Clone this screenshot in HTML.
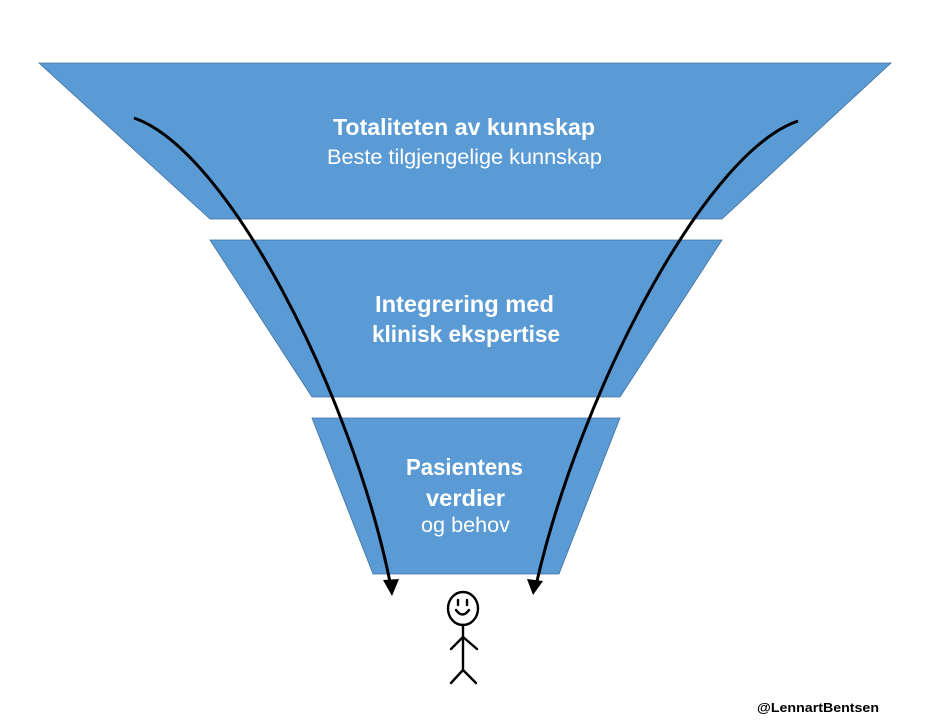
<!DOCTYPE html>
<html>
<head>
<meta charset="utf-8">
<style>
  html,body{margin:0;padding:0;background:#fff;}
  body{width:932px;height:720px;overflow:hidden;}
  svg{display:block;}
  text{font-family:"Liberation Sans",Arial,sans-serif;fill:#fff;}
</style>
</head>
<body>
<svg width="932" height="720" viewBox="0 0 932 720" xmlns="http://www.w3.org/2000/svg">
  <!-- funnel shapes -->
  <polygon points="39,63 891,63 722,219 210,219" fill="#5B9BD5" stroke="#41719C" stroke-width="0.8"/>
  <polygon points="210,240 722,240 620,397 312,397" fill="#5B9BD5" stroke="#41719C" stroke-width="0.8"/>
  <polygon points="312,418 620,418 559,574 373,574" fill="#5B9BD5" stroke="#41719C" stroke-width="0.8"/>

  <!-- texts -->
  <text x="333" y="135" font-size="23" font-weight="bold" textLength="262" lengthAdjust="spacingAndGlyphs">Totaliteten av kunnskap</text>
  <text x="327" y="164" font-size="21" textLength="275" lengthAdjust="spacingAndGlyphs">Beste tilgjengelige kunnskap</text>

  <text x="375" y="312" font-size="23" font-weight="bold" textLength="179" lengthAdjust="spacingAndGlyphs">Integrering med</text>
  <text x="372" y="342" font-size="23" font-weight="bold" textLength="188" lengthAdjust="spacingAndGlyphs">klinisk ekspertise</text>

  <text x="406" y="475" font-size="23" font-weight="bold" textLength="117" lengthAdjust="spacingAndGlyphs">Pasientens</text>
  <text x="426" y="506" font-size="23" font-weight="bold" textLength="79" lengthAdjust="spacingAndGlyphs">verdier</text>
  <text x="421" y="532" font-size="21" textLength="89" lengthAdjust="spacingAndGlyphs">og behov</text>

  <!-- curved arrows -->
  <path d="M134,118 C228,150 352,395 390,582" fill="none" stroke="#000" stroke-width="3"/>
  <polygon points="383,580 399,579 392,596" fill="#000"/>
  <path d="M798,121 C704,153 580,395 537,581" fill="none" stroke="#000" stroke-width="3"/>
  <polygon points="527,579 543,581 533,595" fill="#000"/>

  <!-- stick figure -->
  <g fill="none" stroke="#000" stroke-width="2.4" stroke-linecap="round">
    <ellipse cx="463" cy="608.5" rx="15" ry="16.5"/>
    <line x1="458" y1="600" x2="458" y2="605"/>
    <line x1="467" y1="600" x2="467" y2="605"/>
    <path d="M456,610 Q462.5,619 469,610"/>
    <line x1="463" y1="625" x2="463" y2="670"/>
    <line x1="463" y1="637" x2="451" y2="649"/>
    <line x1="463" y1="637" x2="477" y2="649"/>
    <line x1="463" y1="670" x2="451" y2="683"/>
    <line x1="463" y1="670" x2="476" y2="683"/>
  </g>

  <!-- watermark -->
  <text x="757" y="712" font-size="13" font-weight="bold" style="fill:#000" textLength="122" lengthAdjust="spacingAndGlyphs">@LennartBentsen</text>
</svg>
</body>
</html>
